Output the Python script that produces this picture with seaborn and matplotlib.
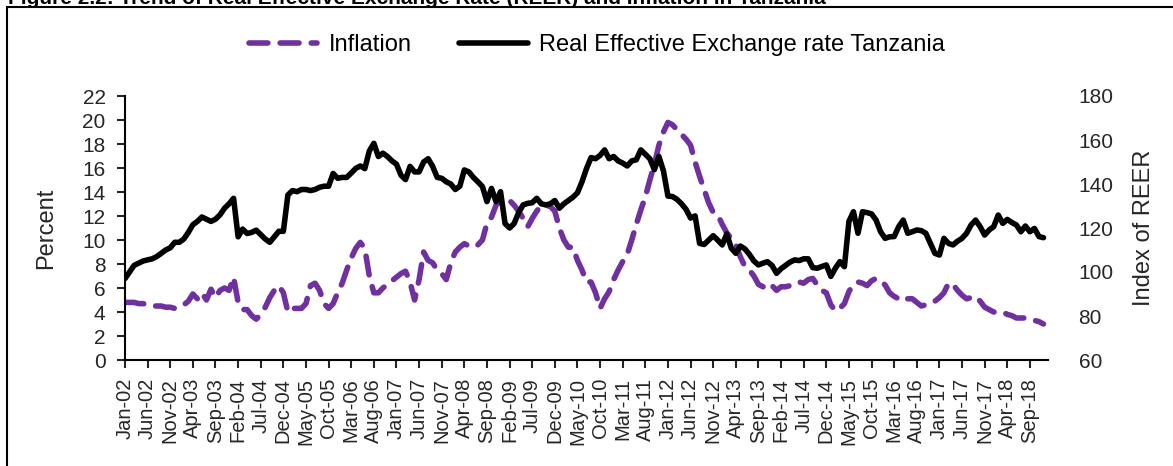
import matplotlib
matplotlib.use("Agg")
import matplotlib.pyplot as plt
from matplotlib.lines import Line2D
import seaborn as sns
import pandas as pd
import numpy as np

# ---------------- data ----------------
start_month = "2002-01"
n_months = 204

inflation = [
    4.8, 4.8, 4.8, 4.7, 4.7, 4.6, 4.5, 4.5, 4.5, 4.4,
    4.4, 4.3, 4.4, 4.6, 4.9, 5.5, 5.1, 5.6, 5.0, 5.9,
    5.2, 5.8, 6.0, 5.8, 6.9, 4.8, 4.2, 4.2, 3.7, 3.4,
    3.8, 4.4, 5.2, 5.8, 6.2, 5.6, 4.0, 4.3, 4.3, 4.3,
    4.7, 6.2, 6.4, 5.8, 4.7, 4.3, 4.7, 5.6, 6.4, 7.5,
    8.5, 9.3, 9.8, 9.3, 7.0, 5.6, 5.6, 6.0, 6.3, 6.6,
    6.9, 7.2, 7.4, 6.5, 5.0, 6.7, 9.0, 8.3, 8.1, 7.5,
    7.2, 6.7, 8.1, 9.0, 9.4, 9.7, 9.5, 9.4, 9.6, 10.0,
    11.4, 11.9, 12.9, 13.3, 13.4, 13.3, 12.9, 12.4, 11.8, 11.1,
    11.8, 12.4, 12.9, 12.9, 12.8, 12.4, 11.0, 10.0, 9.4, 9.4,
    8.3, 7.5, 6.5, 6.5, 5.6, 4.3, 5.1, 5.7, 6.7, 7.5,
    8.2, 8.8, 10.0, 11.3, 12.5, 13.6, 15.0, 16.3, 17.9, 19.0,
    19.8, 19.6, 19.2, 18.8, 18.4, 17.9, 16.5, 15.3, 14.2, 13.1,
    12.3, 12.1, 11.3, 10.6, 10.1, 9.6, 8.6, 7.8, 7.5, 7.0,
    6.3, 6.1, 6.4, 6.2, 5.8, 6.1, 6.1, 6.2, 6.4, 6.5,
    6.4, 6.7, 6.8, 6.25, 5.8, 5.6, 4.6, 4.1, 4.3, 4.7,
    5.7, 6.3, 6.5, 6.4, 6.2, 6.6, 6.8, 6.6, 6.25, 5.6,
    5.3, 5.1, 5.3, 5.1, 5.1, 4.8, 4.5, 4.6, 4.8, 4.9,
    5.2, 5.6, 6.4, 6.3, 5.8, 5.4, 5.1, 5.2, 5.3, 4.9,
    4.4, 4.2, 4.0, 4.0, 4.0, 3.8, 3.7, 3.5, 3.5, 3.5,
    3.4, 3.3, 3.2, 3.0,
]

reer = [
    97, 100, 103, 104, 105, 105.5, 106, 107, 108.5, 110,
    111, 113.5, 113.5, 115, 118, 121.5, 123, 125, 124, 123,
    124, 126, 129, 131, 133.5, 116, 119.5, 117.5, 118, 119,
    117, 115, 113.5, 116, 118.5, 118.5, 135, 137, 136.5, 137.5,
    137.5, 137, 137.5, 138.5, 139, 139, 144.8, 142.6, 143, 143,
    145, 147.1, 148.2, 147, 155, 158.5, 152.5, 154, 152.5, 150.5,
    149, 144, 142, 148, 145.5, 145.5, 150, 151.5, 148, 143,
    142.6, 141, 140, 137.5, 139, 146.4, 145.5, 143, 141, 138.8,
    132, 138, 132, 136.5, 122, 120, 122, 127, 130.5, 131.2,
    131.5, 133.5, 131, 130.5, 131, 132.5, 129, 131, 132.5, 134,
    136, 141, 147, 152, 151.5, 153, 155.5, 151.5, 152.5, 150.5,
    149.5, 148.2, 150.5, 151, 155.5, 153.5, 151.5, 146.5, 152.5, 146,
    134.5, 134.3, 133, 131, 128.5, 124.5, 125.5, 113, 112.5, 114.5,
    116.5, 114.5, 112.3, 117.3, 110.8, 108.5, 111.8, 110.5, 108, 105,
    103.2, 104, 104.7, 103, 99.4, 101.5, 103, 104.5, 105.5, 105.2,
    106, 106, 102, 101.7, 102.5, 103.2, 98, 101.7, 104.7, 102.4,
    123, 127.4, 117.6, 127.4, 127, 126.4, 123.6, 118.3, 115.3, 116,
    116.1, 120.6, 123.6, 117.6, 118.3, 119.1, 118.8, 117.6, 113, 108.5,
    107.7, 115.3, 113, 112.3, 114, 115.3, 117.6, 121.4, 123.6, 120.6,
    116.8, 119.1, 120.6, 125.9, 122.1, 123.9, 122.5, 121.4, 118.3, 120.9,
    118.3, 119.8, 116.1, 115.6,
]

month_labels = list(pd.date_range(start_month, periods=n_months, freq="MS").strftime("%b-%y"))
label_step = 5

title = "Figure 2.2: Trend of Real Effective Exchange Rate (REER) and Inflation in Tanzania"
series_names = ["Inflation", "Real Effective Exchange rate Tanzania"]
left_label = "Percent"
right_label = "Index of REER"

assert len(inflation) == n_months and len(reer) == n_months

df = pd.DataFrame({"idx": np.arange(n_months), "inflation": inflation, "reer": reer})

# ---------------- style ----------------
sns.set_style("white")
plt.rcParams["font.family"] = ["Liberation Sans", "DejaVu Sans"]
plt.rcParams["text.color"] = "black"

W, H = 1173, 466
fig = plt.figure(figsize=(W / 100, H / 100), dpi=100)
L, R, T, B = 125, 1048, 96, 360
ax = fig.add_axes([L / W, 1 - B / H, (R - L) / W, (B - T) / H])
ax2 = ax.twinx()

purple = "#7030A0"
sns.lineplot(data=df, x="idx", y="inflation", ax=ax, color=purple, lw=4.0, label=series_names[0], legend=False)
sns.lineplot(data=df, x="idx", y="reer", ax=ax2, color="black", lw=4.0, label=series_names[1], legend=False)

l_inf = ax.lines[-1]
l_inf.set_dashes([3.4, 2.2])
l_inf.set_dash_capstyle("round")
l_inf.set_dash_joinstyle("round")
l_reer = ax2.lines[-1]
l_reer.set_solid_capstyle("round")
l_reer.set_solid_joinstyle("round")

# axes limits & ticks
ax.set_xlim(0, 204)
ax.set_ylim(0, 22)
ax.set_yticks(np.arange(0, 23, 2))
ax2.set_ylim(60, 180)
ax2.set_yticks(np.arange(60, 181, 20))

ticks = list(range(0, n_months, label_step))
ax.set_xticks(ticks)
ax.set_xticklabels([month_labels[i] for i in ticks], rotation=90, fontsize=14.5)

ax.tick_params(axis="y", labelsize=15, length=6, width=1.5, direction="out", pad=8, left=True)
ax.tick_params(axis="x", length=6, width=1.5, direction="out", pad=7, bottom=True)
ax2.tick_params(axis="y", labelsize=15, length=0, pad=22)

for a in (ax, ax2):
    a.set_xlabel("")
    for s in a.spines.values():
        s.set_visible(False)
ax.spines["left"].set_visible(True)
ax.spines["bottom"].set_visible(True)
ax.spines["left"].set_linewidth(1.5)
ax.spines["bottom"].set_linewidth(1.5)
ax.spines["left"].set_color("black")
ax.spines["bottom"].set_color("black")

ax.set_ylabel(left_label, fontsize=17, labelpad=14)
ax2.set_ylabel(right_label, fontsize=17, labelpad=12)
ax.yaxis.set_label_coords((57 - L) / (R - L), 0.5)
ax2.yaxis.set_label_coords((1133 - L) / (R - L), 0.5)

# legend
handles = [l_inf, l_reer]
ax2.legend(handles, series_names, loc="center", bbox_to_anchor=(597 / W, 1 - 45 / H),
           bbox_transform=fig.transFigure, ncol=2, frameon=False, fontsize=17,
           handlelength=2.9, handletextpad=0.5, columnspacing=2.0)

# outer frame (left & top lines) and title, clipped at the top edge as in the source
fig.add_artist(Line2D([6.5 / W, 6.5 / W], [0, 1 - 7 / H], transform=fig.transFigure, color="black", lw=1.5))
fig.add_artist(Line2D([6.5 / W, 1], [1 - 7 / H, 1 - 7 / H], transform=fig.transFigure, color="black", lw=1.5))
fig.text(8 / W, 1 - 4.5 / H, title, fontsize=15, fontweight="bold", ha="left", va="baseline")

fig.savefig("out.png", dpi=100)
